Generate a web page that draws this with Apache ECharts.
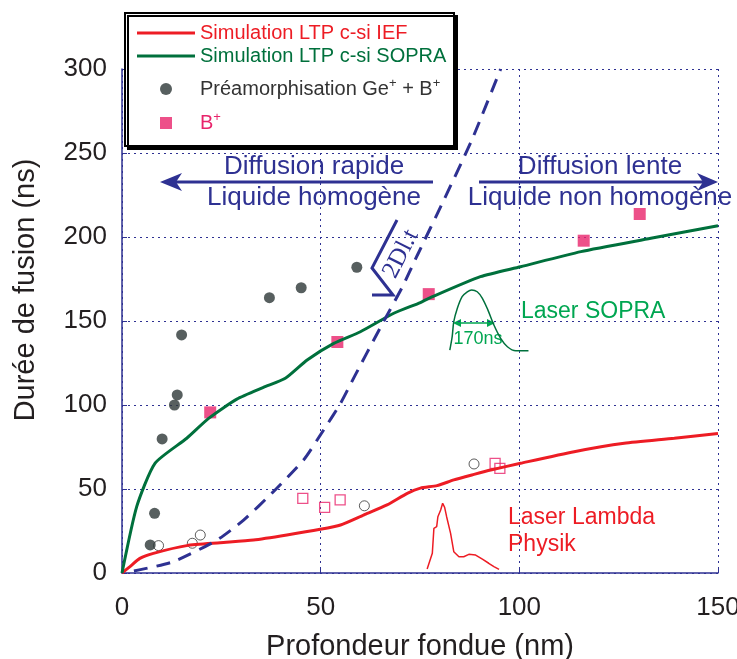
<!DOCTYPE html>
<html>
<head>
<meta charset="utf-8">
<script src="https://cdn.jsdelivr.net/npm/echarts@6/dist/echarts.min.js"></script>
<style>
html, body { margin: 0; padding: 0; background: #fff; }
#main { width: 737px; height: 659px; }
</style>
</head>
<body>
<div id="main"></div>
<script>
// courbes simulées
var iefX = [0, 2, 4.5, 7.9, 16.3, 24.7, 33.1, 41.5, 49.9, 55, 60.8, 66.7, 71.8, 75.1, 79.3, 83.5, 88.6, 92.8, 100.3, 113.8, 126.4, 139, 150];
var iefY = [0, 3.8, 8.7, 11.7, 16.3, 18, 19.6, 22.6, 26, 28.6, 34.5, 40.5, 47.4, 50.5, 52, 55.4, 58.7, 61.3, 65.3, 72.2, 77.2, 80.2, 83.1];
var sopraX = [0, 3.7, 8.3, 16.3, 21.8, 28.9, 35.6, 41.1, 46.6, 53.3, 60, 68.4, 75.1, 77.2, 90.2, 100.3, 115.5, 133.1, 150];
var sopraY = [0, 39.5, 65.3, 80.2, 92, 103.5, 110.5, 115.9, 126.8, 136.7, 143.6, 154.6, 161, 163.5, 176.4, 182.3, 191.3, 199.2, 206.7];
// racine(2Dl.t)
var diffX = [3, 12.9, 23.9, 30.6, 38.1, 45.7, 50.7, 55, 58.3, 65, 70.5, 74.3, 81, 88.1, 95.3];
var diffY = [1.2, 6.7, 19.6, 31.5, 48.4, 67.3, 85, 101, 116, 146, 170, 189, 222, 258, 300];

// points mesurés
var preamX = [7.1, 8.2, 10.1, 13.2, 13.9, 15.0, 37.1, 45.1, 59.1];
var preamY = [16.7, 35.5, 79.8, 100, 106, 141.7, 163.9, 169.8, 182];
var preamOpenX = [9.2, 17.7, 19.7, 61, 88.6];
var preamOpenY = [16.3, 17.7, 22.6, 40, 64.9];
var bX = [22.2, 54.2, 77.2, 116.2, 130.3];
var bY = [95.6, 137.5, 166, 197.8, 213.7];
var bOpenX = [45.5, 51, 54.9, 93.9, 95.1];
var bOpenY = [44.4, 39.1, 43.5, 65.3, 62.3];

// profils des lasers (encarts)
var pulseSopraX = [82.5, 83.1, 83.5, 84.4, 85.6, 86.9, 88.0, 89.4, 90.7, 92.1, 93.6, 95.3, 97.0, 99.1, 102.3];
var pulseSopraY = [132.7, 140.7, 149.6, 157.6, 164.5, 167.4, 168.5, 167.4, 163.5, 156.5, 147.6, 139.7, 134.7, 132.3, 132.3];
var pulseLambdaX = [76.8, 78.1, 78.5, 79.2, 79.5, 80.2, 80.7, 81.2, 81.7, 82.7, 83.5, 84.8, 86.0, 87.3, 89.0, 90.7, 92.3, 93.6, 94.9];
var pulseLambdaY = [2.4, 11.7, 26.6, 27.6, 33.5, 37.5, 41.5, 39.1, 33.5, 23.6, 12.7, 9.7, 9.7, 11.1, 10.7, 8.2, 5.8, 3.8, 2.2];

var xTicks = [0, 50, 100, 150];
var yTicks = [0, 50, 100, 150, 200, 250, 300];

function pairs(xs, ys) {
    return xs.map(function (x, i) { return [x, ys[i]]; });
}

var FONT = '"Liberation Sans", Arial, sans-serif';
var BLUE = '#2e3192';
var RED = '#ed1c24';
var GREEN = '#00703c';
var LGREEN = '#00a651';
var PINK = '#e8246b';
var DARK = '#2d3737';
var SQUARE = 'path://M0,0L1,0L1,1L0,1Z';

var myChart = echarts.init(document.getElementById('main'));

var gridLine = { show: true, lineStyle: { color: BLUE, type: [2, 4], width: 1 } };

option = {
    animation: false,
    grid: { left: 122, right: 19, top: 69, bottom: 86, outerBoundsMode: 'none' },
    xAxis: {
        type: 'value',
        min: xTicks[0], max: xTicks[xTicks.length - 1], interval: 50,
        name: 'Profondeur fondue (nm)',
        nameLocation: 'middle',
        nameGap: 59,
        nameTextStyle: { fontSize: 29, fontFamily: FONT, color: '#231f20' },
        axisLine: { show: true, lineStyle: { color: BLUE, width: 1.5 } },
        axisTick: { show: true, inside: true, length: 5, lineStyle: { color: BLUE } },
        axisLabel: { fontSize: 26, fontFamily: FONT, color: '#231f20', margin: 22 },
        splitLine: gridLine
    },
    yAxis: {
        type: 'value',
        min: yTicks[0], max: yTicks[yTicks.length - 1], interval: 50,
        axisLine: { show: true, lineStyle: { color: BLUE, width: 1.5 } },
        axisTick: { show: true, inside: true, length: 5, lineStyle: { color: BLUE } },
        axisLabel: { fontSize: 26, fontFamily: FONT, color: '#231f20', margin: 15 },
        splitLine: gridLine
    },
    legend: [
        {
            orient: 'vertical', left: 137, top: 23, padding: 0,
            itemWidth: 58, itemHeight: 3, itemGap: 3,
            selectedMode: false,
            textStyle: { fontSize: 20, fontFamily: FONT, lineHeight: 20 },
            data: [
                { name: 'Simulation LTP c-si IEF', icon: 'rect', textStyle: { color: RED } },
                { name: 'Simulation LTP c-si SOPRA', icon: 'rect', textStyle: { color: GREEN } }
            ]
        },
        {
            // la boîte englobante commence au bord gauche des symboles
            orient: 'vertical', left: 160, top: 77, padding: 0,
            itemWidth: 58, itemHeight: 12, itemGap: 10,
            selectedMode: false,
            textStyle: {
                fontSize: 20, fontFamily: FONT, lineHeight: 24,
                rich: {
                    sd: { fontSize: 13, fontFamily: FONT, color: '#333', verticalAlign: 'top', lineHeight: 24 },
                    sp: { fontSize: 13, fontFamily: FONT, color: PINK, verticalAlign: 'top', lineHeight: 24 }
                }
            },
            formatter: function (name) {
                if (name === 'B+') return 'B{sp|+}';
                return 'Préamorphisation Ge{sd|+} + B{sd|+}';
            },
            data: [
                { name: 'Préamorphisation Ge+ + B+', icon: 'circle', textStyle: { color: '#333' } },
                { name: 'B+', icon: SQUARE, textStyle: { color: PINK } }
            ]
        }
    ],
    series: [
        {
            name: 'Simulation LTP c-si IEF', type: 'line', data: pairs(iefX, iefY),
            symbol: 'none', smooth: 0.2,
            lineStyle: { color: RED, width: 3 }, itemStyle: { color: RED }
        },
        {
            name: 'Simulation LTP c-si SOPRA', type: 'line', data: pairs(sopraX, sopraY),
            symbol: 'none', smooth: 0.2,
            lineStyle: { color: GREEN, width: 3 }, itemStyle: { color: GREEN }
        },
        {
            name: 'diffusion', type: 'line', data: pairs(diffX, diffY),
            symbol: 'none', smooth: 0.2,
            lineStyle: { color: BLUE, width: 3, type: [14, 9] }
        },
        {
            name: 'laser SOPRA', type: 'line', data: pairs(pulseSopraX, pulseSopraY),
            symbol: 'none', smooth: 0.3, silent: true,
            lineStyle: { color: GREEN, width: 1.5 }
        },
        {
            name: 'laser Lambda', type: 'line', data: pairs(pulseLambdaX, pulseLambdaY),
            symbol: 'none', silent: true,
            lineStyle: { color: RED, width: 1.5 }
        },
        {
            name: 'préam. ouvert', type: 'scatter', data: pairs(preamOpenX, preamOpenY),
            symbol: 'circle', symbolSize: 10,
            itemStyle: { color: 'rgba(0,0,0,0)', borderColor: '#333', borderWidth: 1 }
        },
        {
            name: 'B+ ouvert', type: 'scatter', data: pairs(bOpenX, bOpenY),
            symbol: 'rect', symbolSize: 10,
            itemStyle: { color: 'rgba(0,0,0,0)', borderColor: PINK, borderWidth: 1.3 }
        },
        {
            name: 'Préamorphisation Ge+ + B+', type: 'scatter', data: pairs(preamX, preamY),
            symbol: 'circle', symbolSize: 11,
            itemStyle: { color: DARK }
        },
        {
            name: 'B+', type: 'scatter', data: pairs(bX, bY),
            symbol: 'rect', symbolSize: 12,
            itemStyle: { color: PINK }
        }
    ],
    graphic: [
        // cadre de la légende
        {
            type: 'rect', z: 3,
            shape: { x: 125, y: 13, width: 329, height: 133 },
            style: { fill: '#fff', stroke: '#000', lineWidth: 2, shadowColor: '#000', shadowOffsetX: 3, shadowOffsetY: 3, shadowBlur: 0 }
        },
        {
            type: 'text', x: 26, y: 290, rotation: Math.PI / 2,
            style: { text: 'Durée de fusion (ns)', fontSize: 29, fontFamily: FONT, fill: '#231f20', align: 'center', verticalAlign: 'middle' }
        },
        // flèches de diffusion
        { type: 'line', shape: { x1: 433, y1: 182, x2: 176, y2: 182 }, style: { stroke: BLUE, lineWidth: 3 } },
        { type: 'polygon', shape: { points: [[160, 182], [182, 173], [176, 182], [182, 191]] }, style: { fill: BLUE } },
        { type: 'line', shape: { x1: 479, y1: 182, x2: 703, y2: 182 }, style: { stroke: BLUE, lineWidth: 3 } },
        { type: 'polygon', shape: { points: [[718, 182], [697, 173], [703, 182], [697, 191]] }, style: { fill: BLUE } },
        { type: 'text', x: 314, y: 167, style: { text: 'Diffusion rapide', fontSize: 26, fontFamily: FONT, fill: BLUE, align: 'center', verticalAlign: 'middle' } },
        { type: 'text', x: 314, y: 198, style: { text: 'Liquide homogène', fontSize: 26, fontFamily: FONT, fill: BLUE, align: 'center', verticalAlign: 'middle' } },
        { type: 'text', x: 600, y: 167, style: { text: 'Diffusion lente', fontSize: 26, fontFamily: FONT, fill: BLUE, align: 'center', verticalAlign: 'middle' } },
        { type: 'text', x: 600, y: 198, style: { text: 'Liquide non homogène', fontSize: 26, fontFamily: FONT, fill: BLUE, align: 'center', verticalAlign: 'middle' } },
        // racine
        { type: 'polyline', shape: { points: [[397, 220], [372, 268], [393, 295], [372, 295]] }, style: { stroke: BLUE, lineWidth: 3, fill: null } },
        {
            type: 'text', x: 401, y: 254, rotation: 1.1,
            style: { text: '2Dl.t', fontSize: 25, fontFamily: '"Liberation Serif", serif', fill: BLUE, align: 'center', verticalAlign: 'middle' }
        },
        // encart laser SOPRA
        { type: 'line', shape: { x1: 456, y1: 323, x2: 492, y2: 323 }, style: { stroke: LGREEN, lineWidth: 1.5 } },
        { type: 'polygon', shape: { points: [[453, 323], [461, 319], [461, 327]] }, style: { fill: LGREEN } },
        { type: 'polygon', shape: { points: [[495, 323], [487, 319], [487, 327]] }, style: { fill: LGREEN } },
        { type: 'text', x: 478, y: 339, style: { text: '170ns', fontSize: 18, fontFamily: FONT, fill: LGREEN, align: 'center', verticalAlign: 'middle' } },
        { type: 'text', x: 521, y: 312, style: { text: 'Laser SOPRA', fontSize: 23, fontFamily: FONT, fill: LGREEN, align: 'left', verticalAlign: 'middle' } },
        // encart laser Lambda Physik
        { type: 'text', x: 508, y: 518, style: { text: 'Laser Lambda', fontSize: 23, fontFamily: FONT, fill: RED, align: 'left', verticalAlign: 'middle' } },
        { type: 'text', x: 508, y: 545, style: { text: 'Physik', fontSize: 23, fontFamily: FONT, fill: RED, align: 'left', verticalAlign: 'middle' } }
    ]
};

myChart.setOption(option);
</script>
</body>
</html>
